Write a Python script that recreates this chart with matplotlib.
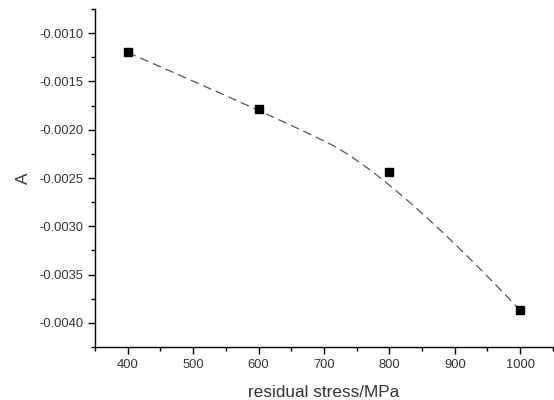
import numpy as np
import matplotlib
matplotlib.use("Agg")
import matplotlib.pyplot as plt
from matplotlib.ticker import MultipleLocator, FormatStrFormatter

plt.rcParams['font.family'] = ['Liberation Sans', 'DejaVu Sans']

# data
stress = [400, 600, 800, 1000]
A_vals = [-0.00120, -0.00179, -0.00244, -0.00387]


# clamped quadratic B-spline with the data points as control points
def bspline(px, py, k=2, num=300):
    n = len(px)
    inner = np.arange(1, n - k)
    knots = np.concatenate([np.zeros(k + 1), inner, np.full(k + 1, n - k)]).astype(float)
    u = np.linspace(0, n - k, num)
    u[-1] -= 1e-9
    # Cox-de Boor
    N = np.array([((knots[i] <= u) & (u < knots[i + 1])).astype(float) for i in range(len(knots) - 1)])
    for d in range(1, k + 1):
        Nn = np.zeros((len(knots) - 1 - d, num))
        for i in range(len(knots) - 1 - d):
            a = knots[i + d] - knots[i]
            b = knots[i + d + 1] - knots[i + 1]
            left = (u - knots[i]) / a * N[i] if a > 0 else 0
            right = (knots[i + d + 1] - u) / b * N[i + 1] if b > 0 else 0
            Nn[i] = left + right
        N = Nn
    return N.T @ np.array(px, float), N.T @ np.array(py, float)


fig = plt.figure(figsize=(5.54, 4), dpi=100)
ax = fig.add_axes([0.1715, 0.1325, 0.8265, 0.845])

bx, by = bspline(stress, A_vals)
ax.plot(bx, by, color='#555555', lw=0.9, dashes=(7, 4))
ax.plot(stress, A_vals, 's', color='black', ms=5.5, ls='none')

ax.set_xlim(350, 1050)
ax.set_ylim(-0.00425, -0.00075)
ax.xaxis.set_major_locator(MultipleLocator(100))
ax.xaxis.set_minor_locator(MultipleLocator(50))
ax.yaxis.set_major_locator(MultipleLocator(0.0005))
ax.yaxis.set_minor_locator(MultipleLocator(0.00025))
ax.yaxis.set_major_formatter(FormatStrFormatter('%.4f'))

for s in ['top', 'right']:
    ax.spines[s].set_visible(False)
for s in ['left', 'bottom']:
    ax.spines[s].set_linewidth(1.0)
ax.tick_params(which='major', length=5, width=1, labelsize=9.3, labelcolor='#333333')
ax.tick_params(which='minor', length=3, width=1)

ax.set_xlabel('residual stress/MPa', fontsize=12.3, color='#333333', labelpad=10)
ax.set_ylabel('A', fontsize=12.3, color='#333333', labelpad=6)

fig.savefig('out.png', dpi=100)
